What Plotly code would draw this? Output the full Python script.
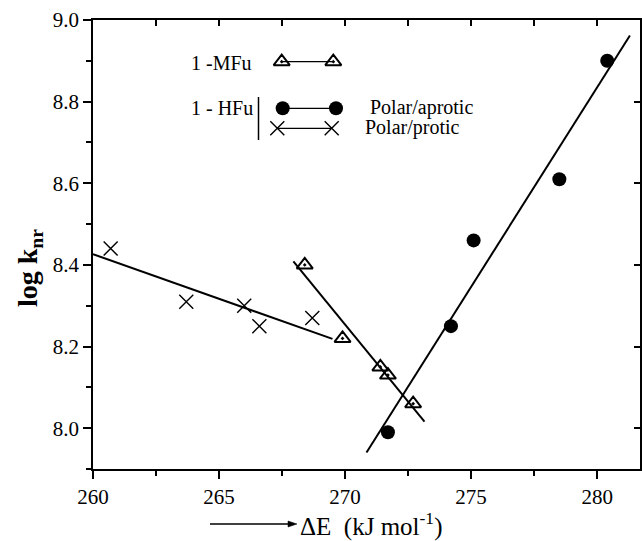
import numpy as np
import plotly.graph_objects as go

# ---- data ----
protic_x = [260.7, 263.7, 266.0, 266.6, 268.7]      # 1-HFu polar/protic (crosses)
protic_y = [8.44, 8.31, 8.30, 8.25, 8.27]
mfu_x = [268.4, 269.9, 271.4, 271.7, 272.7]         # 1-MFu (triangles)
mfu_y = [8.40, 8.22, 8.15, 8.13, 8.06]
aprotic_x = [271.7, 274.2, 275.1, 278.5, 280.4]     # 1-HFu polar/aprotic (circles)
aprotic_y = [7.99, 8.25, 8.46, 8.61, 8.90]
# extent of the drawn regression lines
protic_fit_span = [260.0, 269.5]
mfu_fit_span = [267.95, 273.15]
aprotic_fit_span = [270.85, 281.3]

x_ticks = [260, 265, 270, 275, 280]
y_ticks = [8.0, 8.2, 8.4, 8.6, 8.8, 9.0]

FONT = "Liberation Serif"

def fit_line(xs, ys, span):
    m, b = np.polyfit(xs, ys, 1)
    sx = np.array(span)
    return sx, m * sx + b

fig = go.Figure()

for xs, ys, span in [(protic_x, protic_y, protic_fit_span),
                     (mfu_x, mfu_y, mfu_fit_span),
                     (aprotic_x, aprotic_y, aprotic_fit_span)]:
    lx, ly = fit_line(xs, ys, span)
    fig.add_trace(go.Scatter(x=lx, y=ly, mode="lines",
                             line=dict(color="black", width=2), showlegend=False))

fig.add_trace(go.Scatter(x=protic_x, y=protic_y, mode="markers", showlegend=False,
                         marker=dict(symbol="x-thin-open", size=14, color="black",
                                     line=dict(width=1.4, color="black"))))
fig.add_trace(go.Scatter(x=mfu_x, y=mfu_y, mode="markers", showlegend=False,
                         marker=dict(symbol="triangle-up-open-dot", size=14, color="black",
                                     line=dict(width=2, color="black"))))
fig.add_trace(go.Scatter(x=aprotic_x, y=aprotic_y, mode="markers", showlegend=False,
                         marker=dict(symbol="circle", size=14, color="black",
                                     line=dict(width=0))))

# ---- custom legend drawn on a hidden unit axis ----
W, H = 642, 541
L, R, T, B = 93, 2, 20, 72
PW, PH = W - L - R, H - T - B
def px(xp):
    return (xp - L) / PW
def py(yp):
    return (H - B - yp) / PH

leg_samples = [
    ([281.7, 333.3], [61.7, 61.7], "triangle-up-open-dot", 2),
    ([282.7, 336.0], [108.3, 108.3], "circle", 0),
    ([277.3, 331.7], [128.3, 128.3], "x-thin-open", 1.4),
]
for xs, ys, sym, lw in leg_samples:
    fig.add_trace(go.Scatter(x=[px(v) for v in xs], y=[py(v) for v in ys],
                             xaxis="x3", yaxis="y3", mode="lines+markers",
                             showlegend=False, hoverinfo="skip",
                             line=dict(color="black", width=1.2),
                             marker=dict(symbol=sym, size=14, color="black",
                                         line=dict(width=lw, color="black"))))

annotations = [
    dict(text="1 -MFu", x=px(189), y=py(63), xanchor="left", yanchor="middle"),
    dict(text="1 - HFu", x=px(189), y=py(108), xanchor="left", yanchor="middle"),
    dict(text="Polar/aprotic", x=px(368), y=py(108), xanchor="left", yanchor="middle"),
    dict(text="Polar/protic", x=px(363), y=py(128), xanchor="left", yanchor="middle"),
]
for a in annotations:
    a.update(xref="paper", yref="paper", showarrow=False,
             font=dict(family=FONT, size=20, color="black"))

# axis titles
annotations.append(dict(text="\u0394E  (kJ mol<sup>-1</sup>)", x=px(298), y=py(524),
                        xref="paper", yref="paper", xanchor="left", yanchor="middle",
                        showarrow=False, font=dict(family=FONT, size=25, color="black")))
annotations.append(dict(text="<b>log k<sub>nr</sub></b>", x=px(29), y=py(268), xref="paper",
                        yref="paper", xanchor="center", yanchor="middle", textangle=-90,
                        showarrow=False, font=dict(family=FONT, size=28, color="black")))

# arrow in front of the x title, legend bracket
ax0, ax1, ayy = 210, 297, 524
shapes = [
    dict(type="line", xref="paper", yref="paper", x0=px(258.5), x1=px(258.5),
         y0=py(97), y1=py(140), line=dict(color="black", width=1.5)),
    dict(type="line", xref="paper", yref="paper", x0=px(ax0), x1=px(ax1 - 6),
         y0=py(ayy), y1=py(ayy), line=dict(color="black", width=1.3)),
    dict(type="path", xref="paper", yref="paper",
         path=f"M {px(ax1)} {py(ayy)} L {px(ax1 - 9)} {py(ayy - 3)} L {px(ax1 - 9)} {py(ayy + 3)} Z",
         fillcolor="black", line=dict(color="black", width=0.5)),
]

axis_common = dict(showgrid=False, zeroline=False, showline=True, linecolor="black",
                   linewidth=1.5, tickcolor="black", ticks="outside", mirror=False,
                   tickfont=dict(family=FONT, size=21, color="black"))

fig.update_layout(
    width=W, height=H,
    margin=dict(l=L, r=R, t=T, b=B),
    paper_bgcolor="white", plot_bgcolor="white",
    xaxis=dict(range=[260, 281.7], tickvals=x_ticks, ticklen=8, tickwidth=1.5,
               minor=dict(dtick=2.5, tick0=260, ticks="outside", ticklen=5,
                          tickwidth=1.5, tickcolor="black"),
               **axis_common),
    yaxis=dict(range=[7.9, 9.0], tickvals=y_ticks, tickformat=".1f", ticklen=8,
               tickwidth=1.5,
               minor=dict(dtick=0.1, tick0=8.0, ticks="outside", ticklen=5,
                          tickwidth=1.5, tickcolor="black"),
               **axis_common),
    xaxis2=dict(overlaying="x", matches="x", side="top", showgrid=False, zeroline=False,
                showline=True, linecolor="black", linewidth=1.5, ticks="inside",
                ticklen=6, tickwidth=1.5, tickcolor="black", dtick=2.5, tick0=260,
                showticklabels=False),
    yaxis2=dict(overlaying="y", matches="y", side="right", showgrid=False, zeroline=False,
                showline=True, linecolor="black", linewidth=1.5, ticks="inside",
                ticklen=6, tickwidth=1.5, tickcolor="black", tickvals=y_ticks[:-1],
                showticklabels=False),
    xaxis3=dict(overlaying="x", range=[0, 1], visible=False, domain=[0, 1]),
    yaxis3=dict(overlaying="y", range=[0, 1], visible=False, domain=[0, 1]),
    annotations=annotations,
    shapes=shapes,
)

# invisible trace so the top/right axes are drawn
fig.add_trace(go.Scatter(x=[260], y=[8.0], xaxis="x2", yaxis="y2", mode="markers",
                         marker=dict(opacity=0), showlegend=False, hoverinfo="skip"))

fig.write_html("out.html")
